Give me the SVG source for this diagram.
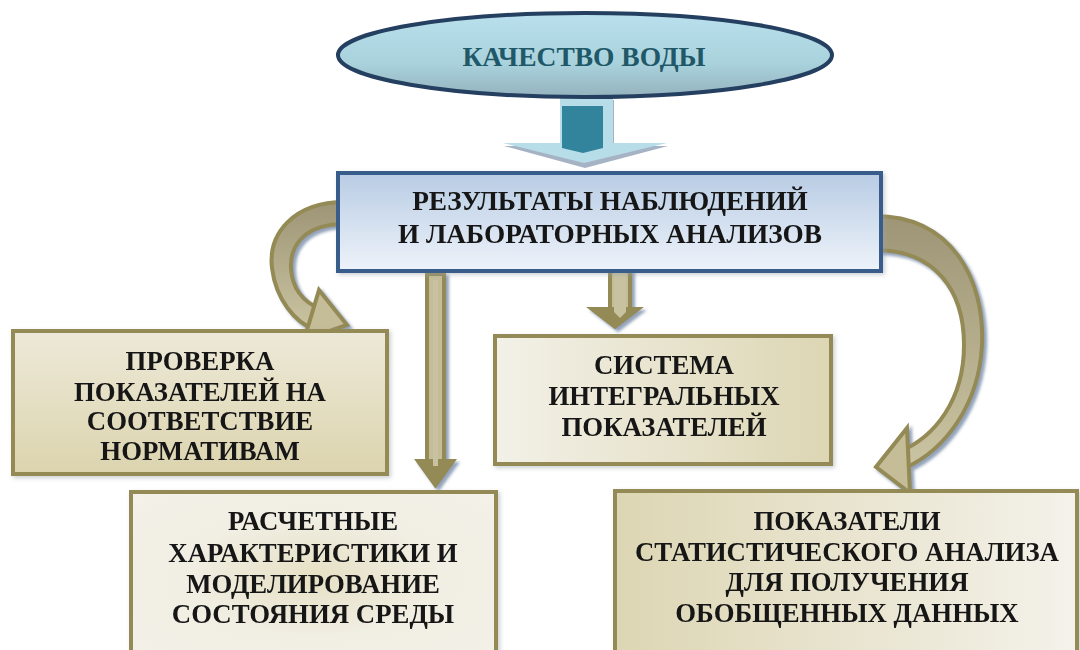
<svg xmlns="http://www.w3.org/2000/svg" width="1080" height="650" viewBox="0 0 1080 650">
<defs>
<style>
.t{font-family:"Liberation Serif","Times New Roman",serif;font-weight:bold;font-size:26.8px;fill:#151515;text-anchor:middle}
.bx{stroke:#948a54;stroke-width:4}
.band{stroke:#948a54;stroke-width:4;stroke-linejoin:round}
.head{fill:#c4bd97;stroke:#948a54;stroke-width:4;stroke-linejoin:miter}
</style>
<linearGradient id="gEll" x1="0" y1="0" x2="0" y2="1">
<stop offset="0" stop-color="#b9e0ec"/><stop offset="0.6" stop-color="#a9d2dd"/><stop offset="1" stop-color="#94b3bd"/>
</linearGradient>
<linearGradient id="gMain" x1="0" y1="0" x2="0" y2="1">
<stop offset="0" stop-color="#b8cce4"/><stop offset="1" stop-color="#eef3fa"/>
</linearGradient>
<linearGradient id="gB1" x1="0" y1="0" x2="0" y2="1">
<stop offset="0" stop-color="#ede9d8"/><stop offset="1" stop-color="#dcd4ae"/>
</linearGradient>
<radialGradient id="gB2" cx="0.5" cy="0.5" r="0.7">
<stop offset="0" stop-color="#e6e0c4"/><stop offset="0.5" stop-color="#f1eee3"/><stop offset="1" stop-color="#f3f1e8"/>
</radialGradient>
<linearGradient id="gB3" x1="0" y1="0" x2="1" y2="0">
<stop offset="0" stop-color="#f3f1e8"/><stop offset="1" stop-color="#ddd6b4"/>
</linearGradient>
<linearGradient id="gB4" x1="0" y1="0" x2="1" y2="0">
<stop offset="0" stop-color="#ddd6b4"/><stop offset="1" stop-color="#f4f2ea"/>
</linearGradient>
<linearGradient id="gBand" x1="0" y1="0" x2="0" y2="1">
<stop offset="0" stop-color="#9d9575"/><stop offset="1" stop-color="#cbc4a2"/>
</linearGradient>
<filter id="sh" x="-20%" y="-20%" width="140%" height="140%">
<feDropShadow dx="3" dy="3" stdDeviation="1.5" flood-color="#7f93ae" flood-opacity="0.85"/>
</filter>
<filter id="bsh" x="-5%" y="-5%" width="110%" height="115%">
<feDropShadow dx="2" dy="2" stdDeviation="2" flood-color="#9aa0a8" flood-opacity="0.5"/>
</filter>
</defs>
<rect width="1080" height="650" fill="#ffffff"/>

<g id="connectors">
  <g id="arrow-top">
    <path d="M 560 97 L 613 97 L 613 143 L 667 143 L 584 165 L 503 143 L 560 143 Z" fill="#8ea0b5" transform="translate(1,3)" opacity="0.8"/>
    <path d="M 560 97 L 613 97 L 613 143 L 667 143 L 584 163 L 503 143 L 560 143 Z" fill="#b7dde8"/>
    <path d="M 562 106 L 603 106 L 603 148 L 583 153 L 562 148 Z" fill="#31849b"/>
  </g>
  <g id="arrow-left" filter="url(#sh)">
    <path class="band" fill="url(#gBand)" d="M 345 202 C 292 202 268 235 272 268 C 276 300 295 322 315 330 L 322 310 C 305 303 292 290 291 268 C 290 245 305 224 345 224 Z"/>
    <path class="head" d="M 319 290 L 347 325 L 304 340 Z"/>
  </g>
  <g id="arrow-right" filter="url(#sh)">
    <path class="band" fill="url(#gBand)" d="M 875 216 C 952 216 985 280 982 345 C 979 405 945 450 905 468 L 899 452 C 935 437 964 400 964 345 C 964 290 935 250 875 250 Z"/>
    <path class="head" d="M 907 428 L 876 467 L 910 493 Z"/>
  </g>
  <g id="arrow-down-long" filter="url(#sh)">
    <rect x="427" y="274" width="17" height="188" fill="#c4bd97" stroke="#948a54" stroke-width="4"/>
    <path d="M 416 460 L 455 460 L 435.5 487 Z" fill="#948a54" stroke="#948a54" stroke-width="2"/>
    <rect x="433" y="280" width="5" height="186" fill="#c9c2a0"/>
  </g>
  <g id="arrow-down-short" filter="url(#sh)">
    <rect x="610" y="270" width="20" height="40" fill="#c4bd97" stroke="#948a54" stroke-width="4"/>
    <path d="M 589 308 L 641 308 L 615 328 Z" fill="#948a54" stroke="#948a54" stroke-width="2"/>
    <path d="M 614 270 L 626 270 L 626 312 L 620 318 L 614 312 Z" fill="#c9c2a0"/>
  </g>
</g>

<g id="node-quality">
  <ellipse cx="585" cy="55" rx="247" ry="42" fill="url(#gEll)" stroke="#243f60" stroke-width="4"/>
  <text x="584" y="66" class="t" style="fill:#215868;font-size:27.5px">КАЧЕСТВО ВОДЫ</text>
</g>

<g id="node-results" filter="url(#bsh)">
  <rect x="338" y="173" width="543" height="98" fill="url(#gMain)" stroke="#385d8a" stroke-width="4"/>
  <text x="610" y="210" class="t" style="font-size:27.3px">РЕЗУЛЬТАТЫ НАБЛЮДЕНИЙ</text>
  <text x="610" y="243" class="t" style="font-size:27.3px">И ЛАБОРАТОРНЫХ АНАЛИЗОВ</text>
</g>

<g id="node-check" filter="url(#bsh)">
  <rect x="13" y="331" width="374" height="143" fill="url(#gB1)" class="bx"/>
  <text x="200" y="370" class="t">ПРОВЕРКА</text>
  <text x="200" y="401" class="t">ПОКАЗАТЕЛЕЙ НА</text>
  <text x="200" y="430" class="t">СООТВЕТСТВИЕ</text>
  <text x="200" y="460" class="t">НОРМАТИВАМ</text>
</g>

<g id="node-calc" filter="url(#bsh)">
  <rect x="131" y="492" width="365" height="170" fill="url(#gB2)" class="bx"/>
  <text x="313" y="530" class="t">РАСЧЕТНЫЕ</text>
  <text x="313" y="562" class="t">ХАРАКТЕРИСТИКИ И</text>
  <text x="313" y="593" class="t">МОДЕЛИРОВАНИЕ</text>
  <text x="313" y="623" class="t">СОСТОЯНИЯ СРЕДЫ</text>
</g>

<g id="node-integral" filter="url(#bsh)">
  <rect x="495" y="336" width="336" height="128" fill="url(#gB3)" class="bx"/>
  <text x="664" y="374" class="t">СИСТЕМА</text>
  <text x="664" y="405" class="t">ИНТЕГРАЛЬНЫХ</text>
  <text x="664" y="436" class="t">ПОКАЗАТЕЛЕЙ</text>
</g>

<g id="node-stat" filter="url(#bsh)">
  <rect x="615" y="491" width="462" height="170" fill="url(#gB4)" class="bx"/>
  <text x="847" y="530" class="t">ПОКАЗАТЕЛИ</text>
  <text x="847" y="561" class="t">СТАТИСТИЧЕСКОГО АНАЛИЗА</text>
  <text x="847" y="591" class="t">ДЛЯ ПОЛУЧЕНИЯ</text>
  <text x="847" y="622" class="t">ОБОБЩЕННЫХ ДАННЫХ</text>
</g>
</svg>
